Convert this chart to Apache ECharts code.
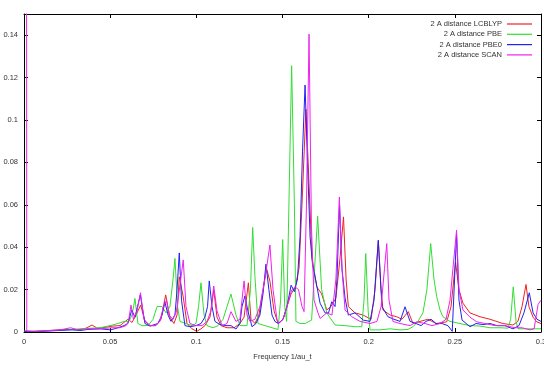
<!DOCTYPE html>
<html>
<head>
<meta charset="utf-8">
<script src="https://cdn.jsdelivr.net/npm/echarts@6/dist/echarts.min.js"></script>
<style>
html,body{margin:0;padding:0;background:#fff;width:100%;height:100%;overflow:hidden;}
#chart{position:absolute;left:0;top:0;width:100%;height:100%;}
</style>
</head>
<body>
<div id="chart"></div>
<script>
// Series names (legend)
var seriesNames = ['2 A distance LCBLYP', '2 A distance PBE', '2 A distance PBE0', '2 A distance SCAN'];
var xTitle = 'Frequency 1/au_t';

// [frequency, amplitude]
var lcblyp = [[0,0.0005],[0.0052,0.0003],[0.0122,0.0006],[0.0197,0.001],[0.0255,0.0012],[0.0325,0.0012],[0.036,0.0018],[0.0395,0.0033],[0.0424,0.0018],[0.047,0.0022],[0.0516,0.0028],[0.0557,0.003],[0.058,0.0045],[0.0603,0.006],[0.0627,0.0045],[0.065,0.008],[0.0677,0.0127],[0.0702,0.005],[0.0731,0.003],[0.0766,0.003],[0.0795,0.006],[0.0822,0.0175],[0.0847,0.007],[0.087,0.004],[0.0888,0.008],[0.0901,0.026],[0.0923,0.017],[0.0946,0.004],[0.0975,0.0015],[0.1002,0.0003],[0.1027,0.0015],[0.105,0.003],[0.1079,0.007],[0.1101,0.0198],[0.112,0.007],[0.1143,0.003],[0.1178,0.002],[0.1219,0.002],[0.1253,0.004],[0.1277,0.007],[0.1302,0.0232],[0.1317,0.006],[0.134,0.004],[0.1363,0.008],[0.1387,0.02],[0.1407,0.030],[0.1427,0.024],[0.1451,0.01],[0.1474,0.004],[0.1503,0.006],[0.1526,0.012],[0.155,0.018],[0.1573,0.021],[0.1596,0.03],[0.1613,0.06],[0.1636,0.105],[0.1654,0.07],[0.1671,0.035],[0.1699,0.0213],[0.1727,0.018],[0.1757,0.0104],[0.1781,0.012],[0.181,0.016],[0.1834,0.035],[0.1854,0.0543],[0.1869,0.025],[0.1882,0.012],[0.1921,0.009],[0.1967,0.008],[0.2014,0.006],[0.2037,0.02],[0.2056,0.043],[0.2072,0.02],[0.2083,0.0104],[0.2124,0.008],[0.2163,0.0072],[0.2193,0.006],[0.223,0.0096],[0.2257,0.004],[0.2298,0.005],[0.2344,0.006],[0.2391,0.004],[0.2453,0.0048],[0.2478,0.012],[0.2504,0.033],[0.2524,0.02],[0.2547,0.0136],[0.2588,0.009],[0.2646,0.0072],[0.2704,0.006],[0.2779,0.004],[0.2837,0.0033],[0.2866,0.005],[0.289,0.012],[0.2913,0.0224],[0.293,0.012],[0.2954,0.007],[0.2975,0.0048],[0.3,0.004]];

var pbe = [[0,0.0003],[0.0093,0.0004],[0.0209,0.0008],[0.0325,0.0015],[0.0441,0.002],[0.0499,0.003],[0.0545,0.004],[0.058,0.005],[0.0609,0.005],[0.0627,0.008],[0.0644,0.0158],[0.0661,0.004],[0.0685,0.003],[0.072,0.003],[0.0749,0.006],[0.0772,0.012],[0.0801,0.012],[0.0824,0.009],[0.0847,0.012],[0.0865,0.025],[0.0876,0.0347],[0.0891,0.012],[0.0905,0.005],[0.094,0.004],[0.0975,0.003],[0.0998,0.004],[0.1013,0.012],[0.1027,0.0232],[0.1045,0.008],[0.1062,0.003],[0.1097,0.002],[0.1126,0.003],[0.1155,0.006],[0.1178,0.012],[0.1201,0.0179],[0.123,0.008],[0.1253,0.003],[0.1294,0.003],[0.1314,0.02],[0.1327,0.0493],[0.134,0.0262],[0.1358,0.004],[0.1398,0.003],[0.1439,0.002],[0.1474,0.0012],[0.1489,0.015],[0.1501,0.0436],[0.1513,0.012],[0.1524,0.005],[0.1553,0.1256],[0.1569,0.06],[0.1578,0.005],[0.1602,0.004],[0.1631,0.004],[0.1654,0.005],[0.1669,0.0056],[0.1679,0.02],[0.1704,0.0546],[0.1727,0.02],[0.1757,0.009],[0.1805,0.0033],[0.1863,0.003],[0.1921,0.0025],[0.196,0.0025],[0.1973,0.015],[0.1983,0.037],[0.1997,0.01],[0.2008,0.001],[0.2066,0.001],[0.2124,0.0015],[0.2182,0.001],[0.2228,0.0012],[0.2257,0.0025],[0.2286,0.005],[0.2315,0.009],[0.2338,0.02],[0.236,0.0417],[0.2379,0.025],[0.2395,0.0166],[0.2414,0.0104],[0.2431,0.0072],[0.2472,0.005],[0.253,0.004],[0.2588,0.003],[0.2646,0.0028],[0.2704,0.002],[0.2762,0.002],[0.2809,0.0018],[0.2824,0.006],[0.2839,0.0213],[0.2855,0.005],[0.2867,0.0015],[0.2907,0.0015],[0.2948,0.0015],[0.3,0.0015]];

var pbe0 = [[0,0.0003],[0.0064,0.0002],[0.0151,0.0005],[0.022,0.0008],[0.0279,0.001],[0.0325,0.0007],[0.0371,0.0012],[0.0441,0.0015],[0.0503,0.001],[0.0545,0.002],[0.058,0.003],[0.0603,0.004],[0.0625,0.0104],[0.0644,0.007],[0.0675,0.0175],[0.0702,0.004],[0.0731,0.0028],[0.0777,0.004],[0.0801,0.008],[0.0818,0.014],[0.0836,0.008],[0.0853,0.005],[0.0876,0.008],[0.0888,0.02],[0.0901,0.0373],[0.0914,0.015],[0.0934,0.003],[0.0963,0.0025],[0.0998,0.003],[0.1027,0.004],[0.105,0.007],[0.1065,0.012],[0.1075,0.0241],[0.1091,0.012],[0.1108,0.005],[0.1137,0.0035],[0.1172,0.003],[0.1201,0.003],[0.123,0.0014],[0.1253,0.004],[0.1265,0.012],[0.1282,0.017],[0.1299,0.01],[0.1323,0.0025],[0.1346,0.004],[0.1369,0.008],[0.1387,0.018],[0.1404,0.032],[0.1421,0.02],[0.1439,0.008],[0.1456,0.005],[0.1476,0.004],[0.1503,0.006],[0.1526,0.012],[0.155,0.0221],[0.1569,0.019],[0.1587,0.025],[0.1602,0.045],[0.1616,0.085],[0.1631,0.1165],[0.1645,0.08],[0.166,0.045],[0.1674,0.032],[0.1689,0.026],[0.1718,0.0136],[0.1747,0.009],[0.1767,0.009],[0.1786,0.0143],[0.1805,0.012],[0.1816,0.025],[0.1831,0.06],[0.1845,0.03],[0.1863,0.016],[0.1882,0.008],[0.1921,0.009],[0.1969,0.0056],[0.2008,0.005],[0.2031,0.015],[0.2056,0.0433],[0.2077,0.012],[0.2112,0.0072],[0.2147,0.006],[0.2182,0.005],[0.2211,0.0119],[0.224,0.005],[0.2275,0.004],[0.2304,0.003],[0.2333,0.005],[0.2362,0.006],[0.2391,0.004],[0.2425,0.004],[0.246,0.003],[0.2485,0.0003],[0.251,0.046],[0.2524,0.015],[0.2542,0.0056],[0.2588,0.0025],[0.2623,0.004],[0.2664,0.0035],[0.2704,0.004],[0.2745,0.003],[0.2791,0.003],[0.2837,0.0015],[0.2872,0.003],[0.2901,0.009],[0.2932,0.0185],[0.2954,0.009],[0.2977,0.006],[0.3,0.005]];

var scan = [[0,2.0],[0.0016,0.0004],[0.0064,0.0003],[0.0139,0.0006],[0.0209,0.001],[0.0271,0.002],[0.0313,0.001],[0.0371,0.0015],[0.0441,0.0015],[0.0511,0.002],[0.0557,0.002],[0.0592,0.003],[0.0606,0.005],[0.0621,0.0127],[0.0635,0.006],[0.0656,0.01],[0.0676,0.0185],[0.0696,0.006],[0.0731,0.003],[0.076,0.003],[0.0789,0.005],[0.0809,0.012],[0.0827,0.015],[0.0841,0.008],[0.0865,0.006],[0.0885,0.01],[0.0905,0.022],[0.0924,0.034],[0.094,0.012],[0.0963,0.004],[0.0998,0.003],[0.1033,0.003],[0.1062,0.005],[0.1085,0.01],[0.1101,0.0217],[0.112,0.01],[0.1149,0.003],[0.1178,0.004],[0.1201,0.0096],[0.123,0.005],[0.1253,0.006],[0.1277,0.0241],[0.1294,0.008],[0.1311,0.005],[0.134,0.006],[0.1369,0.012],[0.1398,0.025],[0.1427,0.041],[0.1445,0.02],[0.1468,0.006],[0.1479,0.004],[0.1503,0.006],[0.1526,0.012],[0.1553,0.0198],[0.1573,0.0213],[0.1593,0.02],[0.1613,0.012],[0.1625,0.0096],[0.1639,0.06],[0.1654,0.1405],[0.1668,0.05],[0.1683,0.015],[0.1706,0.009],[0.1718,0.0064],[0.1757,0.009],[0.1787,0.008],[0.181,0.025],[0.183,0.0637],[0.1845,0.03],[0.1863,0.0104],[0.1902,0.0072],[0.195,0.005],[0.2008,0.004],[0.2048,0.005],[0.2072,0.012],[0.2092,0.03],[0.2105,0.0417],[0.2118,0.015],[0.2141,0.005],[0.2182,0.004],[0.224,0.003],[0.2279,0.0048],[0.2327,0.004],[0.2368,0.003],[0.2414,0.004],[0.2449,0.006],[0.2472,0.015],[0.2489,0.03],[0.251,0.048],[0.2524,0.02],[0.2547,0.0104],[0.2588,0.007],[0.2627,0.0048],[0.2675,0.004],[0.2733,0.003],[0.2791,0.003],[0.2849,0.002],[0.289,0.002],[0.2936,0.001],[0.296,0.0015],[0.2983,0.013],[0.3,0.015]];

var seriesData = [lcblyp, pbe, pbe0, scan];
var seriesColors = ['#ee2222', '#33dd33', '#2222ee', '#ee22ee'];

var font = 'Liberation Sans';
var txt = '#333';
var tickCommon = {show: true, inside: true, length: 4, lineStyle: {color: '#000'}};
var lineCommon = {show: true, onZero: false, lineStyle: {color: '#000', width: 1}};

var el = document.getElementById('chart');
var chart = echarts.init(el, null, {renderer: 'canvas', width: 544, height: 375});
chart.setOption({
  animation: false,
  backgroundColor: '#fff',
  grid: {left: 24, right: 3, top: 14, bottom: 43, containLabel: false, outerBoundsMode: 'none'},
  legend: {
    data: seriesNames,
    orient: 'vertical',
    right: 7, top: 15,
    padding: 5,
    align: 'right',
    icon: 'rect',
    itemWidth: 25, itemHeight: 1.2, itemGap: 2.3,
    textStyle: {fontFamily: font, fontSize: 7.5, color: txt}
  },
  xAxis: [{
    type: 'value', min: 0, max: 0.3, interval: 0.05, position: 'bottom',
    axisLine: lineCommon, axisTick: tickCommon, splitLine: {show: false},
    axisLabel: {fontFamily: font, fontSize: 7.5, color: txt, margin: 6},
    name: xTitle, nameLocation: 'middle', nameGap: 21,
    nameTextStyle: {fontFamily: font, fontSize: 7.5, color: txt}
  }, {
    type: 'value', min: 0, max: 0.3, interval: 0.05, position: 'top',
    axisLine: lineCommon, axisTick: tickCommon, splitLine: {show: false},
    axisLabel: {show: false}
  }],
  yAxis: [{
    type: 'value', min: 0, max: 0.15, interval: 0.02, position: 'left',
    axisLine: lineCommon, axisTick: tickCommon, splitLine: {show: false},
    axisLabel: {fontFamily: font, fontSize: 7.5, color: txt, margin: 6, showMaxLabel: false}
  }, {
    type: 'value', min: 0, max: 0.15, interval: 0.02, position: 'right',
    axisLine: lineCommon, axisTick: tickCommon, splitLine: {show: false},
    axisLabel: {show: false}
  }],
  series: seriesNames.map(function (n, k) {
    return {
      name: n, type: 'line', data: seriesData[k],
      xAxisIndex: 0, yAxisIndex: 0,
      symbol: 'none', showSymbol: false, clip: true,
      color: seriesColors[k],
      lineStyle: {width: 1, color: seriesColors[k]}
    };
  })
});
</script>
</body>
</html>
